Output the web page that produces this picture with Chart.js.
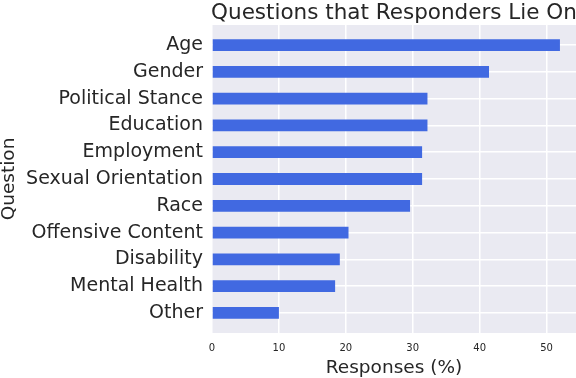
<!DOCTYPE html>
<html lang="en">
<head>
    <meta charset="UTF-8">
    <title>Questions that Responders Lie On</title>
    <script src="https://cdn.jsdelivr.net/npm/chart.js"></script>
    <style>
        html, body {
            margin: 0;
            padding: 0;
            background: #ffffff;
        }
        .chart-box {
            width: 576px;
            height: 378px;
        }
    </style>
</head>
<body>

    <div class="chart-box">
        <canvas id="lieChart"></canvas>
    </div>

    <script>
        // data
        const questions = ['Age', 'Gender', 'Political Stance', 'Education', 'Employment',
            'Sexual Orientation', 'Race', 'Offensive Content', 'Disability', 'Mental Health', 'Other'];
        const responses = [52.0, 41.4, 32.2, 32.2, 31.4, 31.4, 29.6, 20.4, 19.1, 18.4, 10.0];
        const xTicks = [0, 10, 20, 30, 40, 50];

        const FONT = "'DejaVu Sans', sans-serif";
        const TEXT = '#262626';

        // grey seaborn-like panel behind the bars
        const panelBg = {
            id: 'panelBg',
            beforeDraw(chart) {
                const a = chart.chartArea;
                const ctx = chart.ctx;
                ctx.save();
                ctx.fillStyle = '#EAEAF2';
                ctx.fillRect(a.left, a.top, a.right - a.left, a.bottom - a.top);
                ctx.restore();
            }
        };

        // title centred over the plot area, not the canvas
        const plotTitle = {
            id: 'plotTitle',
            afterDraw(chart) {
                const a = chart.chartArea;
                const ctx = chart.ctx;
                ctx.save();
                ctx.font = '21.5px ' + FONT;
                ctx.fillStyle = TEXT;
                ctx.textAlign = 'center';
                ctx.textBaseline = 'alphabetic';
                ctx.fillText('Questions that Responders Lie On', (a.left + a.right) / 2, 19);
                ctx.restore();
            }
        };

        const ctx = document.getElementById('lieChart').getContext('2d');
        new Chart(ctx, {
            type: 'bar',
            data: {
                datasets: [{
                    label: 'Responses (%)',
                    data: responses.map((v, i) => ({ x: v, y: i })),
                    backgroundColor: '#4169E1',
                    borderWidth: 0,
                    categoryPercentage: 1,
                    barPercentage: 0.44
                }]
            },
            options: {
                indexAxis: 'y',
                responsive: true,
                maintainAspectRatio: false,
                animation: false,
                layout: { padding: { top: 25, left: 0, right: 0, bottom: 0 } },
                plugins: {
                    legend: { display: false },
                    tooltip: { enabled: false }
                },
                scales: {
                    x: {
                        type: 'linear',
                        min: 0,
                        max: 54.4,
                        bounds: 'data',
                        offset: false,
                        afterBuildTicks(scale) {
                            scale.ticks = xTicks.map(v => ({ value: v }));
                        },
                        afterFit(scale) {
                            scale.height = 45;
                        },
                        border: { display: false },
                        grid: { color: '#ffffff', lineWidth: 1.5, drawTicks: false },
                        ticks: {
                            padding: 9,
                            color: TEXT,
                            font: { family: FONT, size: 10 },
                            maxRotation: 0
                        },
                        title: {
                            display: true,
                            text: 'Responses (%)',
                            color: TEXT,
                            font: { family: FONT, size: 18.5 },
                            padding: { top: 0, bottom: -1 }
                        }
                    },
                    y: {
                        type: 'linear',
                        reverse: true,
                        min: -0.75,
                        max: questions.length - 0.25,
                        bounds: 'data',
                        offset: false,
                        grace: 0,
                        afterBuildTicks(scale) {
                            scale.ticks = questions.map((q, i) => ({ value: i }));
                        },
                        afterFit(scale) {
                            scale.width = 212;
                        },
                        border: { display: false },
                        grid: { color: '#ffffff', lineWidth: 1.5, drawTicks: false, offset: false },
                        ticks: {
                            autoSkip: false,
                            padding: 9,
                            color: TEXT,
                            font: { family: FONT, size: 19 },
                            callback: (v) => questions[v]
                        },
                        title: {
                            display: true,
                            text: 'Question',
                            color: TEXT,
                            font: { family: FONT, size: 18.5 },
                            padding: { top: -2, bottom: 0 }
                        }
                    }
                }
            },
            plugins: [panelBg, plotTitle]
        });
    </script>

</body>
</html>
